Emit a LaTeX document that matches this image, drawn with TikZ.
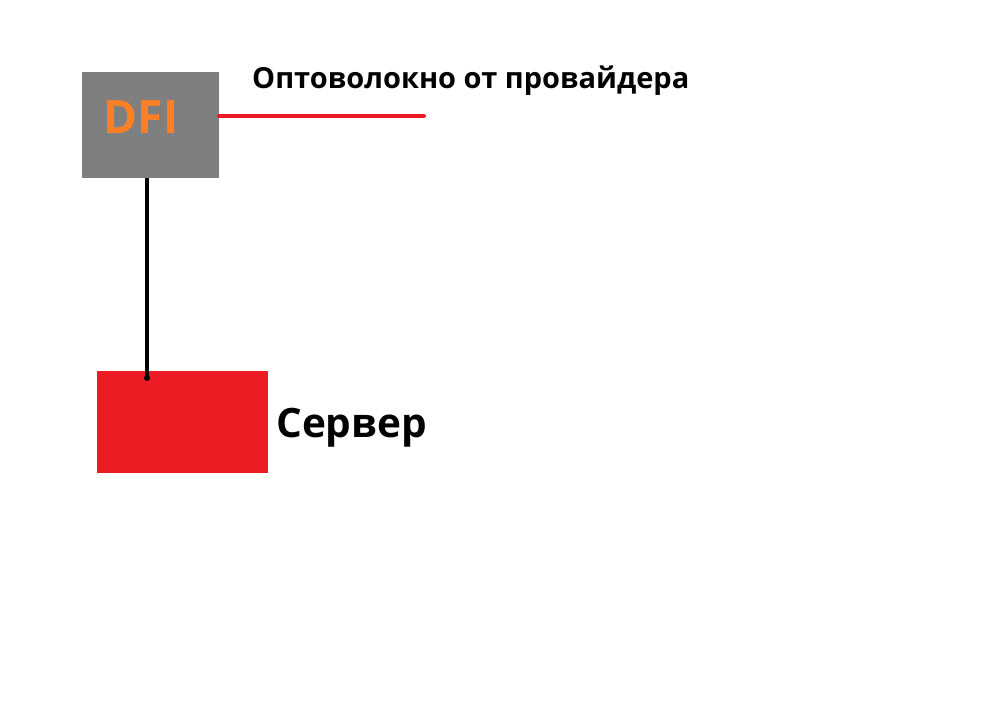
\documentclass[tikz,border=0pt]{standalone}
\usepackage{fontspec}
\setmainfont{Open Sans}
\usepackage{xcolor}
\definecolor{paint-gray}{HTML}{7F7F7F}
\definecolor{paint-red}{HTML}{ED1C24}
\definecolor{paint-orange}{HTML}{FF7F27}
\usetikzlibrary{positioning}
\tikzset{box/.style = {inner sep=0pt, outer sep=0pt, align=center, text centered}}
\tikzset{label/.style = {anchor=base west, inner sep=0pt, font=\bfseries}}
\tikzset{wire/.style = {line width=4pt, line cap=round}}

\begin{document}
\begin{tikzpicture}[x=1pt, y=-1pt]
\useasboundingbox (0,0) rectangle (994,704);

\node[box, fill=paint-gray, minimum width=137pt, minimum height=106pt] (dfi) at (150.5,125) {};
\node[anchor=base, inner sep=0pt, text=paint-orange, font=\fontsize{46}{46}\bfseries] (dfitext) at (141,133) {DFI};
\node[box, fill=paint-red, minimum width=171pt, minimum height=102pt] (srv) at (182.5,422) {};

\node[label, font=\fontsize{29}{29}\bfseries] (fiber) at (252,88) {Оптоволокно от провайдера};
\node[label, font=\fontsize{40.5}{40.5}\bfseries] (srvlabel) at (276,437) {Сервер};

\coordinate (fiberend) at (424,116);
\coordinate (srvtap) at (147,378);

\draw[wire, draw=paint-red] (dfi.east |- fiberend) -- (fiberend);
\draw[wire, line cap=butt] (dfi.south -| srvtap) -- (srvtap);
\fill (srvtap) circle (3pt);

\end{tikzpicture}
\end{document}
